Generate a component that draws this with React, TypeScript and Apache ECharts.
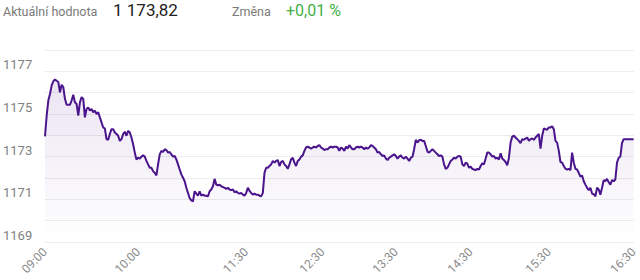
import React, { useEffect, useRef } from "react";
import * as echarts from "echarts";

const tickLabels = ["09:00", "10:00", "11:30", "12:30", "13:30", "14:30", "15:30", "16:30"];
const tickIndex = [0, 56, 121, 167, 211, 256, 303, 354];

const yTicks = [1169, 1170, 1171, 1172, 1173, 1174, 1175, 1176, 1177, 1178];

const headerLabel = "Aktuální hodnota";
const headerValue = "1 173,82";
const changeLabel = "Změna";
const changeValue = "+0,01 %";

const seg1 = [
  1173.95, 1174.92, 1175.63, 1175.94, 1176.34, 1176.53, 1176.62, 1176.56, 1176.5, 1176.02,
  1176.37, 1176.26, 1175.71, 1175.43, 1175.43, 1175.43, 1175.63, 1175.9, 1175.55, 1175.47,
  1174.92, 1175.55, 1175.79, 1175.71, 1174.84, 1175.24, 1175.31, 1175.16, 1175.24, 1175.08,
  1175.16, 1175.0, 1175.08, 1174.84, 1174.61, 1174.37, 1174.32, 1173.82, 1173.79, 1174.06,
  1174.29, 1174.29, 1174.13, 1174.06, 1173.98, 1173.74, 1173.82, 1174.06, 1174.17, 1173.98,
  1174.21, 1174.13, 1173.9, 1173.58, 1173.19, 1172.87, 1172.95, 1172.91, 1173.0, 1173.06,
  1173.0, 1172.8, 1172.64, 1172.48,
];
const seg2 = [
  1172.48, 1172.32, 1172.24, 1172.12, 1172.64, 1173.11, 1173.27, 1173.22, 1173.35, 1173.31,
  1173.19, 1173.22, 1173.11, 1173.0, 1173.03, 1172.87, 1172.64, 1172.4, 1172.17, 1172.01,
  1171.85, 1171.54, 1171.3, 1171.06, 1170.95, 1170.91, 1171.38, 1171.27, 1171.17, 1171.38,
  1171.17, 1171.22, 1171.17, 1171.17, 1171.14, 1171.38, 1171.46, 1171.61, 1171.96, 1171.69,
  1171.65, 1171.69, 1171.61, 1171.58, 1171.54, 1171.49, 1171.54, 1171.46, 1171.43, 1171.46,
  1171.33, 1171.38, 1171.3, 1171.27, 1171.3, 1171.22, 1171.17, 1171.3, 1171.54,
];
const seg3 = [
  1171.4, 1171.3, 1171.22, 1171.27, 1171.22, 1171.22, 1171.17, 1171.14, 1171.3, 1172.24,
  1172.48, 1172.48, 1172.56, 1172.64, 1172.8, 1172.72, 1172.8, 1172.84, 1172.56, 1172.75,
  1172.8, 1172.64, 1172.56, 1172.43, 1172.64, 1172.87, 1172.95, 1172.72, 1172.56, 1172.8,
  1172.87, 1173.0, 1173.06, 1173.27, 1173.43, 1173.47, 1173.43, 1173.38, 1173.43, 1173.47,
  1173.43, 1173.5, 1173.54, 1173.43, 1173.38, 1173.31, 1173.35, 1173.35, 1173.43, 1173.47,
  1173.43, 1173.47, 1173.47, 1173.43, 1173.27, 1173.43, 1173.38, 1173.27, 1173.47, 1173.38,
  1173.54, 1173.43, 1173.35,
];
const seg4 = [
  1173.35, 1173.43, 1173.47, 1173.43, 1173.47, 1173.43, 1173.35, 1173.43, 1173.38, 1173.43,
  1173.54, 1173.5, 1173.43, 1173.35, 1173.19, 1173.22, 1173.11, 1173.03, 1173.06, 1172.91,
  1172.84, 1172.95, 1173.0, 1173.06, 1173.11, 1173.03, 1172.91, 1173.0, 1173.06, 1172.95,
  1172.91, 1173.0, 1172.91, 1172.8, 1172.95, 1173.0, 1173.35, 1173.79, 1173.66, 1173.77,
  1173.79, 1173.74, 1173.74, 1173.5, 1173.24, 1173.19, 1173.27, 1173.35, 1173.27, 1173.19,
  1173.11, 1173.03, 1173.06, 1173.0, 1172.64, 1172.43, 1172.48, 1172.64, 1172.8, 1172.87,
  1172.95, 1172.91, 1173.0,
];
const seg5 = [
  1173.03, 1173.0, 1172.64, 1172.56, 1172.72, 1172.67, 1172.48, 1172.53, 1172.43, 1172.4,
  1172.37, 1172.43, 1172.4, 1172.56, 1172.69, 1172.64, 1172.91, 1173.19, 1173.19, 1173.11,
  1173.0, 1173.03, 1172.91, 1172.95, 1172.87, 1173.16, 1172.91, 1172.84, 1172.75, 1172.59,
  1172.95, 1173.66, 1173.94, 1173.98, 1173.9, 1173.82, 1173.74, 1173.63, 1173.82, 1173.79,
  1173.85, 1173.9, 1173.74, 1173.82, 1173.85, 1173.79, 1173.9, 1173.98, 1174.06, 1173.38,
  1173.98,
];
const seg6 = [
  1174.32, 1174.29, 1174.26, 1174.37, 1174.37, 1174.42, 1174.29, 1173.74, 1173.66, 1173.27,
  1172.75, 1172.72, 1172.56, 1172.43, 1172.4, 1172.43, 1172.37, 1173.19, 1172.72, 1172.43,
  1172.4, 1172.24, 1172.06, 1172.12, 1171.85, 1171.69, 1171.54, 1171.43, 1171.54, 1171.27,
  1171.24, 1171.14, 1171.54, 1171.46, 1171.22, 1171.54, 1171.9, 1171.85, 1171.96, 1171.8,
  1171.69, 1171.9, 1171.85, 1171.93, 1172.72, 1172.95, 1173.0, 1173.63, 1173.82, 1173.82,
  1173.82, 1173.82, 1173.82, 1173.82, 1173.82,
];

const values = [...seg1, ...seg2, ...seg3, ...seg4, ...seg5, ...seg6];

function toMinutes(t: string): number {
  const [h, m] = t.split(":").map(Number);
  return h * 60 + m;
}
function fmt(mins: number): string {
  const h = Math.floor(mins / 60);
  const m = mins % 60;
  return String(h).padStart(2, "0") + ":" + String(m).padStart(2, "0");
}
function buildCategories(n: number): string[] {
  const out: string[] = [];
  for (let k = 0; k < n; k++) {
    let i = 0;
    while (i < tickIndex.length - 2 && k > tickIndex[i + 1]) i++;
    const i0 = tickIndex[i], i1 = tickIndex[i + 1];
    const m0 = toMinutes(tickLabels[i]), m1 = toMinutes(tickLabels[i + 1]);
    out.push(fmt(Math.round(m0 + ((k - i0) / (i1 - i0)) * (m1 - m0))));
  }
  return out;
}

export default function App() {
  const ref = useRef<HTMLDivElement>(null);
  useEffect(() => {
    if (!ref.current) return;
    const chart = echarts.init(ref.current, null, { renderer: "svg" });
    const categories = buildCategories(values.length);
    chart.setOption({
      animation: false,
      textStyle: { fontFamily: "Roboto" },
      grid: { left: 45, right: 5, top: 50, bottom: 38, containLabel: false },
      graphic: [
        { type: "text", x: 3, y: 11, style: { text: headerLabel, fontSize: 12.5, fill: "#7a7a7a", fontFamily: "Roboto", verticalAlign: "middle" } },
        { type: "text", x: 113, y: 10, style: { text: headerValue, fontSize: 17, fill: "#222222", fontFamily: "Roboto", verticalAlign: "middle" } },
        { type: "text", x: 232, y: 11, style: { text: changeLabel, fontSize: 12.5, fill: "#7a7a7a", fontFamily: "Roboto", verticalAlign: "middle" } },
        { type: "text", x: 286, y: 10, style: { text: changeValue, fontSize: 16, fill: "#43b047", fontFamily: "Roboto", verticalAlign: "middle" } },
      ],
      xAxis: {
        type: "category",
        data: categories,
        boundaryGap: false,
        axisLine: { show: false },
        axisTick: { show: false },
        splitLine: { show: false },
        axisLabel: {
          interval: (idx: number) => tickIndex.includes(idx),
          rotate: 45,
          color: "#8a8a8a",
          fontSize: 12,
          margin: 8,
          hideOverlap: false,
        },
      },
      yAxis: {
        type: "value",
        min: yTicks[0],
        max: yTicks[yTicks.length - 1],
        interval: 1,
        axisLine: { show: false },
        axisTick: { show: false },
        splitLine: { lineStyle: { color: "#ececec", width: 1 } },
        axisLabel: {
          align: "left",
          verticalAlign: "bottom",
          margin: 42,
          fontSize: 13,
          color: "#808080",
          formatter: (v: number) => (Math.round(v) % 2 === 1 ? String(Math.round(v)) : ""),
        },
      },
      series: [
        {
          type: "line",
          data: values,
          showSymbol: false,
          symbol: "none",
          lineStyle: { color: "#4a148c", width: 2 },
          areaStyle: {
            color: new echarts.graphic.LinearGradient(0, 0, 0, 1, [
              { offset: 0, color: "rgba(74,20,140,0.16)" },
              { offset: 1, color: "rgba(74,20,140,0.0)" },
            ]),
          },
        },
      ],
    });
    return () => chart.dispose();
  }, []);
  return <div ref={ref} style={{ position: "absolute", left: 0, top: 0, width: 640, height: 280 }} />;
}
